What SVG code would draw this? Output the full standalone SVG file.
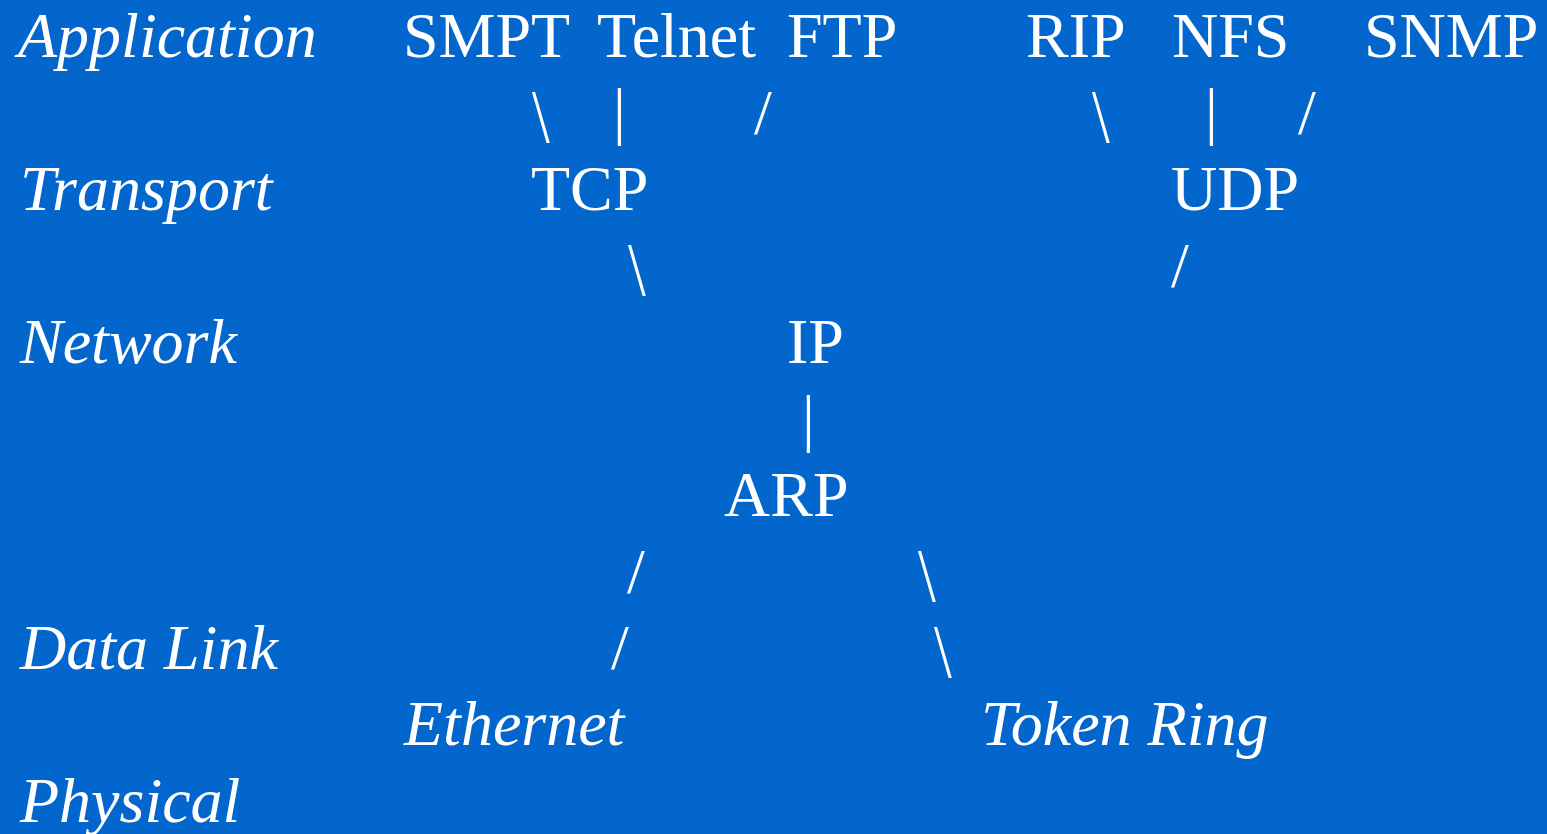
<svg xmlns="http://www.w3.org/2000/svg" width="1547" height="834" viewBox="0 0 1547 834">
<style>
text{font-family:"Liberation Serif","Times New Roman",serif;font-size:64px;fill:#fff}
.l{font-style:italic}
</style>
<rect width="1547" height="834" fill="#0366CC"/>
<g id="layers">
<text class="l" x="18" y="57">Application</text>
<text class="l" x="20" y="210">Transport</text>
<text class="l" x="20" y="363">Network</text>
<text class="l" x="20" y="669">Data Link</text>
<text class="l" x="20" y="822">Physical</text>
</g>
<g id="smpt"><text x="403" y="57">SMPT</text></g>
<g id="telnet"><text x="597" y="57">Telnet</text></g>
<g id="ftp"><text x="787" y="57">FTP</text></g>
<g id="rip"><text x="1026" y="57">RIP</text></g>
<g id="nfs"><text x="1172" y="57">NFS</text></g>
<g id="snmp"><text x="1364" y="57">SNMP</text></g>
<g id="tcp"><text x="531" y="210">TCP</text></g>
<g id="udp"><text x="1171" y="210">UDP</text></g>
<g id="ip"><text x="787" y="363">IP</text></g>
<g id="arp"><text x="724" y="516">ARP</text></g>
<g id="ethernet"><text class="l" x="404" y="745">Ethernet</text></g>
<g id="tokenring"><text class="l" x="981" y="745">Token Ring</text></g>
<g id="connectors">
<text transform="translate(532,141.5) scale(1,1.19)">\</text>
<text x="613" y="132">|</text>
<text x="754" y="133.5">/</text>
<text transform="translate(1092,141.5) scale(1,1.19)">\</text>
<text x="1205" y="132">|</text>
<text x="1298" y="133.5">/</text>
<text transform="translate(628,295) scale(1,1.19)">\</text>
<text x="1171" y="287">/</text>
<text x="802" y="438.5">|</text>
<text x="627" y="593">/</text>
<text transform="translate(918,601) scale(1,1.19)">\</text>
<text x="611" y="669">/</text>
<text transform="translate(934,677) scale(1,1.19)">\</text>
</g>
</svg>
